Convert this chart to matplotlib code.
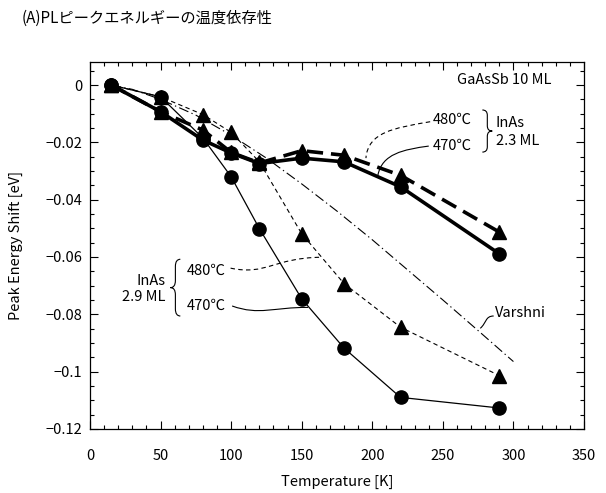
import matplotlib
matplotlib.use("Agg")
import matplotlib.pyplot as plt
import matplotlib.patches as patches
from matplotlib.path import Path
from matplotlib.ticker import MultipleLocator

plt.rcParams['font.family'] = ['Noto Sans CJK JP', 'DejaVu Sans']

# measured temperatures [K]
temps = [15, 50, 80, 100, 120, 150, 180, 220, 290]
# peak energy shift [eV]
shift_23_470 = [0, -0.0093, -0.0192, -0.0237, -0.0274, -0.0255, -0.0268, -0.0355, -0.0589]
shift_23_480 = [0, -0.0093, -0.0157, -0.0235, -0.0272, -0.0229, -0.0245, -0.0315, -0.0513]
shift_29_470 = [0, -0.0041, -0.0185, -0.0320, -0.0501, -0.0746, -0.0918, -0.1090, -0.1127]
shift_29_480 = [0, -0.0041, -0.0103, -0.0165, -0.0268, -0.0519, -0.0693, -0.0845, -0.1014]

# Varshni curve
varshni_t = [15, 30, 50, 75, 100, 125, 150, 175, 200, 225, 250, 275, 300]
varshni_shift = [0, -0.0015, -0.005, -0.0105, -0.0175, -0.0255, -0.0345, -0.044,
                 -0.054, -0.0645, -0.075, -0.0857, -0.0965]

xticks = [0, 50, 100, 150, 200, 250, 300, 350]
yticks = [0, -0.02, -0.04, -0.06, -0.08, -0.1, -0.12]
ytick_labels = ["0", "\u22120.02", "\u22120.04", "\u22120.06", "\u22120.08", "\u22120.1", "\u22120.12"]

FS = 10.5


def brace(ax, x, y_top, y_bot, w):
    # curly brace, tip points in direction of w
    ym = (y_top + y_bot) / 2
    h = (y_top - y_bot) / 2
    verts = [(x, y_top),
             (x + w/2, y_top), (x + w/2, y_top - 0.25*h),
             (x + w/2, ym + 0.25*h),
             (x + w/2, ym), (x + w, ym),
             (x + w/2, ym), (x + w/2, ym - 0.25*h),
             (x + w/2, y_bot + 0.25*h),
             (x + w/2, y_bot), (x, y_bot)]
    codes = [Path.MOVETO, Path.CURVE3, Path.CURVE3, Path.LINETO, Path.CURVE3, Path.CURVE3,
             Path.CURVE3, Path.CURVE3, Path.LINETO, Path.CURVE3, Path.CURVE3]
    ax.add_patch(patches.PathPatch(Path(verts, codes), fill=False, lw=0.8, color='black'))


def leader(ax, pts, ls='-'):
    codes = [Path.MOVETO] + [Path.CURVE4] * (len(pts) - 1)
    ax.add_patch(patches.PathPatch(Path(pts, codes), fill=False, lw=0.8,
                                   color='black', linestyle=ls))


fig = plt.figure(figsize=(6.06, 4.93), dpi=100)
ax = fig.add_axes([90/606, 0.130, 494/606, 0.744])

ax.plot(varshni_t, varshni_shift, color='black', lw=0.8, linestyle=(0, (9, 3, 1.2, 3)))
ax.plot(temps, shift_29_480, color='black', lw=0.8, linestyle=(0, (4, 3)),
        marker='^', markersize=9.5, zorder=3)
ax.plot(temps, shift_29_470, color='black', lw=0.9, marker='o', markersize=9.5, zorder=3)
ax.plot(temps, shift_23_480, color='black', lw=2.6, linestyle=(0, (4.5, 2.2)),
        marker='^', markersize=9.5, zorder=4)
ax.plot(temps, shift_23_470, color='black', lw=2.6, marker='o', markersize=9.5, zorder=4)

ax.set_xlim(0, 350)
ax.set_ylim(-0.12, 0.008)
ax.set_xticks(xticks)
ax.set_yticks(yticks)
ax.set_yticklabels(ytick_labels)
ax.xaxis.set_minor_locator(MultipleLocator(10))
ax.yaxis.set_minor_locator(MultipleLocator(0.005))
ax.tick_params(which='both', direction='in', top=True, right=True, labelsize=FS)
ax.tick_params(which='major', length=6, width=0.8)
ax.tick_params(which='minor', length=3, width=0.8)
ax.tick_params(axis='x', pad=14.5)
ax.tick_params(axis='y', pad=5.5)
for s in ax.spines.values():
    s.set_linewidth(0.9)

fig.text(22/606, 1 - 18/493, "(A)PLピークエネルギーの温度依存性", fontsize=11, va='center')
fig.text(0.5 * (90 + 584) / 606, 1 - 482/493, "Temperature [K]", fontsize=FS,
         ha='center', va='center')
fig.text(16/606, 0.5 * (2 - (62 + 429) / 493), "Peak Energy Shift [eV]", fontsize=FS,
         ha='center', va='center', rotation=90)

ax.text(260, 0.0017, "GaAsSb 10 ML", fontsize=FS, va='center')

# InAs 2.3 ML annotations
ax.text(243, -0.0122, "480℃", fontsize=FS, va='center')
ax.text(243, -0.0213, "470℃", fontsize=FS, va='center')
brace(ax, 278, -0.0087, -0.0234, 7)
ax.text(287.5, -0.0133, "InAs", fontsize=FS, va='center')
ax.text(287.5, -0.0195, "2.3 ML", fontsize=FS, va='center')
leader(ax, [(241, -0.0128), (215, -0.0150), (197, -0.0165), (195.5, -0.0255)], ls=(0, (4, 3)))
leader(ax, [(240, -0.0213), (222, -0.0225), (207, -0.0240), (204, -0.0314)])

# InAs 2.9 ML annotations
ax.text(68.7, -0.065, "480℃", fontsize=FS, va='center')
ax.text(68.7, -0.0771, "470℃", fontsize=FS, va='center')
brace(ax, 64, -0.0608, -0.0806, -7)
ax.text(53.5, -0.0683, "InAs", fontsize=FS, va='center', ha='right')
ax.text(53.5, -0.074, "2.9 ML", fontsize=FS, va='center', ha='right')
leader(ax, [(99.6, -0.0639), (125, -0.0665), (130, -0.0603), (163.7, -0.0601)], ls=(0, (4, 3)))
leader(ax, [(100.7, -0.0771), (120, -0.0805), (130, -0.0775), (154.5, -0.0776)])

# Varshni label
ax.text(287.2, -0.0796, "Varshni", fontsize=FS, va='center')
leader(ax, [(276.5, -0.0849), (281, -0.0830), (280, -0.0806), (286, -0.0806)])

fig.savefig("out.png", dpi=100)
